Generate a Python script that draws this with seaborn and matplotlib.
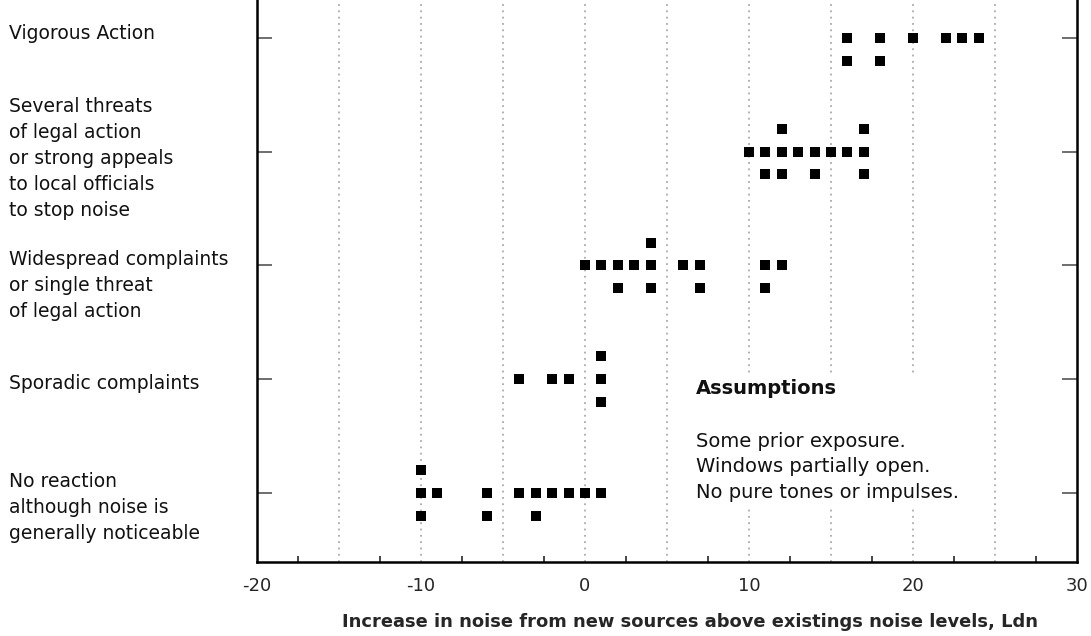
"""
Community reaction vs. increase in noise (Ldn) - recreated with seaborn
"""

import numpy as np
import pandas as pd
import seaborn as sns
import matplotlib.pyplot as plt
from matplotlib.patches import Rectangle
from matplotlib.transforms import blended_transform_factory

# reaction categories, bottom to top
reactions = [
    "No reaction\nalthough noise is\ngenerally noticeable",
    "Sporadic complaints",
    "Widespread complaints\nor single threat\nof legal action",
    "Several threats\nof legal action\nor strong appeals\nto local officials\nto stop noise",
    "Vigorous Action",
]

# noise increase of each case (Ldn), one entry per square on the chart
no_reaction = [-10, -10, -10, -9, -6, -6, -4, -3, -3, -2, -1, 0, 1]
sporadic = [-4, -2, -1, 1, 1, 1]
widespread = [0, 1, 2, 2, 3, 4, 4, 4, 6, 7, 7, 11, 11, 12]
several_threats = [10, 11, 11, 12, 12, 12, 13, 14, 14, 15, 16, 17, 17, 17]
vigorous = [16, 16, 18, 18, 20, 22, 23, 24]

xticks = [-20, -10, 0, 10, 20, 30]
xlabel = "Increase in noise from new sources above existings noise levels, Ldn"
assumptions_title = "Assumptions"
assumptions = ["Some prior exposure.", "Windows partially open.", "No pure tones or impulses."]

# build long table
rows = []
for level, values in enumerate([no_reaction, sporadic, widespread, several_threats, vigorous]):
    for v in values:
        rows.append({"level": level, "increase": v})
df = pd.DataFrame(rows)

# repeated values get stacked: first on the tick line, second below, third above
df["nth"] = df.groupby(["level", "increase"]).cumcount()
df["y"] = df["level"] + df["nth"].map({0: 0.0, 1: -0.2, 2: 0.2})

sns.set_style("ticks")
plt.rcParams["font.family"] = ["DejaVu Sans"]

fig = plt.figure(figsize=(10.91, 6.36), dpi=100)
ax = fig.add_axes([257 / 1091, 1 - 562 / 636, 820 / 1091, 562 / 636])

# dotted vertical grid every 5
for gx in range(-15, 30, 5):
    ax.axvline(gx, color="#aaaaaa", ls=(0, (1, 2.5)), lw=1.3, zorder=1)

# white background behind the assumptions note (hides the grid there)
ax.add_patch(Rectangle((6.4, -0.123), 16.8, 1.178, facecolor="white",
                       edgecolor="none", zorder=2))

sns.scatterplot(data=df, x="increase", y="y", marker="s", s=58, color="black",
                linewidth=0, ax=ax, zorder=3, legend=False)

ax.set_xlim(-20, 30)
ax.set_ylim(-0.607, 4.334)

ax.set_xticks(xticks)
ax.set_xticklabels([str(t) for t in xticks], fontsize=13)
ax.set_xticks(np.arange(-17.5, 30, 5), minor=True)
ax.tick_params(axis="x", which="major", length=0, pad=11)
ax.tick_params(axis="x", which="minor", direction="in", length=4, width=1.2)

ax.set_yticks(range(len(reactions)))
ax.set_yticklabels([])
ax.tick_params(axis="y", which="major", direction="in", length=11, width=1.2,
               left=True, right=True, color="#555555")

ax.set_xlabel(xlabel, fontsize=12.9, fontweight="bold")
ax.xaxis.set_label_coords(0.528, -0.107)
ax.xaxis.label.set_va("center")
ax.set_ylabel("")

for side in ["left", "right", "bottom"]:
    ax.spines[side].set_linewidth(1.8)
    ax.spines[side].set_color("black")
ax.spines["top"].set_visible(False)

# category labels on the left, outside the axes
label_y = [-0.13, 0.96, 1.82, 2.94, 4.04]
trans = blended_transform_factory(fig.transFigure, ax.transData)
for lab, ly in zip(reactions, label_y):
    ax.text(0.008, ly, lab, transform=trans, ha="left", va="center",
            fontsize=13.5, linespacing=1.47, color="#111111")

# assumptions note
ax.text(6.74, 0.23, "\n".join(assumptions), ha="left", va="center",
        fontsize=14, linespacing=1.435, color="#111111", zorder=4)
ax.text(6.74, 0.92, assumptions_title, ha="left", va="center",
        fontsize=14, fontweight="bold", color="#111111", zorder=5)

plt.savefig("out.png", dpi=100)
